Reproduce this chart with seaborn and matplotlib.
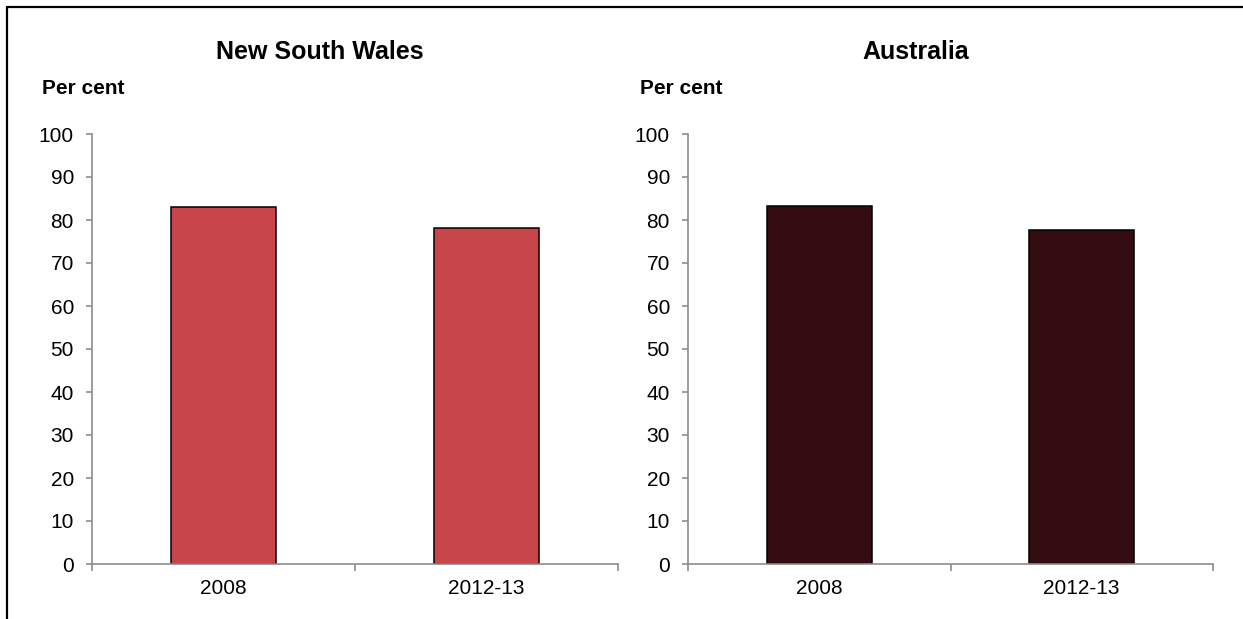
import matplotlib
matplotlib.use("Agg")
import matplotlib.pyplot as plt
import seaborn as sns
import pandas as pd
from matplotlib.lines import Line2D
from matplotlib.ticker import FixedLocator

# data
periods = ["2008", "2012-13"]
nsw_values = [83.0, 78.2]
aus_values = [83.3, 77.7]
panel_titles = ["New South Wales", "Australia"]
bar_colours = ["#C8464A", "#330D11"]

sns.set_theme(style="white")
plt.rcParams['font.family'] = ['Liberation Sans', 'DejaVu Sans']
plt.rcParams['text.color'] = 'black'

fig = plt.figure(figsize=(12.43, 6.19), dpi=100)

axes_pos = [[92 / 1243, 1 - 564 / 619, 526 / 1243, 430 / 619],
            [688 / 1243, 1 - 564 / 619, 525 / 1243, 430 / 619]]
title_x = [320 / 1243, 916 / 1243]
percent_x = [42 / 1243, 640 / 1243]

for i, vals in enumerate([nsw_values, aus_values]):
    ax = fig.add_axes(axes_pos[i])
    df = pd.DataFrame({"period": periods, "value": vals})
    sns.barplot(data=df, x="period", y="value", color=bar_colours[i],
                saturation=1, width=0.4, edgecolor="black", linewidth=1.1, ax=ax)
    ax.set_xlim(-0.5, 1.5)
    ax.set_ylim(0, 100)
    ax.set_yticks(range(0, 101, 10))
    ax.set_xlabel("")
    ax.set_ylabel("")
    for s in ["top", "right"]:
        ax.spines[s].set_visible(False)
    for s in ["left", "bottom"]:
        ax.spines[s].set_color("#8C8C8C")
        ax.spines[s].set_linewidth(1.2)
    ax.tick_params(axis="y", which="major", left=True, length=4, width=1.2,
                   color="#8C8C8C", pad=9, labelsize=15, labelcolor="black")
    ax.tick_params(axis="x", which="major", bottom=False, length=0, pad=11,
                   labelsize=15, labelcolor="black")
    ax.xaxis.set_minor_locator(FixedLocator([-0.5, 0.5, 1.5]))
    ax.tick_params(axis="x", which="minor", bottom=True, length=5, width=1.2,
                   color="#8C8C8C")
    fig.text(title_x[i], 1 - 52 / 619, panel_titles[i], ha="center", va="center",
             fontsize=18, fontweight="bold")
    fig.text(percent_x[i], 1 - 88 / 619, "Per cent", ha="left", va="center",
             fontsize=15, fontweight="bold")

# frame lines along top and left edge
fig.add_artist(Line2D([7 / 1243, 1], [1 - 7 / 619, 1 - 7 / 619], color="black", lw=1.6,
                      transform=fig.transFigure))
fig.add_artist(Line2D([7 / 1243, 7 / 1243], [0, 1 - 7 / 619], color="black", lw=1.6,
                      transform=fig.transFigure))

fig.savefig("out.png", dpi=100)
